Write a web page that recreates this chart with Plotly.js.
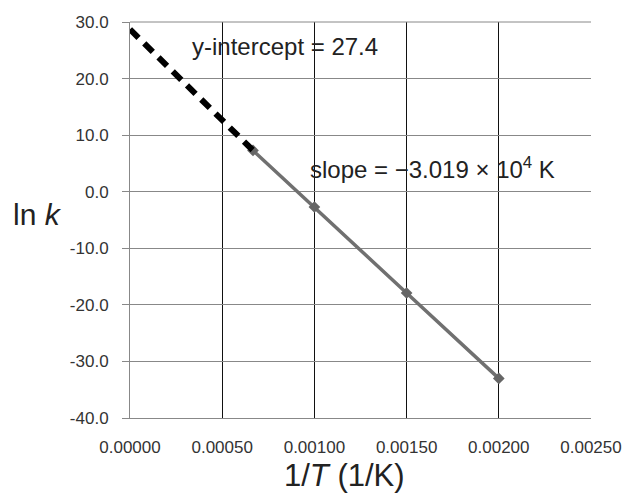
<!DOCTYPE html>
<html><head><meta charset="utf-8">
<script src="https://cdn.plot.ly/plotly-3.0.1.min.js"></script>
<style>html,body{margin:0;padding:0;background:#fff}#c{width:631px;height:495px}</style>
</head><body><div id="c"></div>
<script>
var invT = [0.000667, 0.00100, 0.00150, 0.00200];
var lnk = [7.3, -2.7, -17.9, -33.0];
var extX = [0.0, 0.000667];
var extY = [28.7, 7.3];
var xTicks = [0, 0.0005, 0.001, 0.0015, 0.002, 0.0025];
var xTickText = ["0.00000","0.00050","0.00100","0.00150","0.00200","0.00250"];
var yTicks = [-40,-30,-20,-10,0,10,20,30];
var yTickText = ["-40.0","-30.0","-20.0","-10.0","0.0","10.0","20.0","30.0"];

var traces = [
  {x: invT, y: lnk, mode: 'lines+markers', type: 'scatter',
   line: {color: '#707070', width: 3.5},
   marker: {symbol: 'diamond', size: 9, color: '#666666'}},
  {x: extX, y: extY, mode: 'lines', type: 'scatter',
   line: {color: '#000000', width: 6, dash: '12px,8px'}}
];
var layout = {
  width: 631, height: 495,
  margin: {l: 130, r: 40, t: 22, b: 77},
  showlegend: false,
  paper_bgcolor: '#fff', plot_bgcolor: '#fff',
  font: {family: 'Liberation Sans, Arial, sans-serif', color: '#222'},
  xaxis: {range: [0, 0.0025], tickvals: xTicks, ticktext: xTickText,
    showgrid: true, gridcolor: '#111', gridwidth: 1,
    zeroline: false, showline: true, linecolor: '#888', linewidth: 1,
    ticks: '', ticklabelstandoff: 14,
    tickfont: {size: 17, family: 'Liberation Sans, Arial, sans-serif', color: '#333'}},
  yaxis: {range: [-40, 30], tickvals: yTicks, ticktext: yTickText,
    showgrid: true, gridcolor: '#888', gridwidth: 1,
    zeroline: false, showline: true, linecolor: '#888', linewidth: 1,
    ticks: 'outside', ticklen: 7, tickcolor: '#888', ticklabelstandoff: 10,
    tickfont: {size: 17, family: 'Liberation Sans, Arial, sans-serif', color: '#333'}},
  shapes: [{type: 'line', xref: 'paper', yref: 'paper', x0: 0, x1: 1, y0: 1, y1: 1,
    line: {color: '#888', width: 1}}],
  annotations: [
    {xref: 'paper', yref: 'paper', x: -0.2, y: 0.513, xanchor: 'center', yanchor: 'middle',
     text: 'ln <i>k</i>', showarrow: false, font: {size: 30, color: '#222'}},
    {xref: 'paper', yref: 'paper', x: 0.465, y: -0.144, xanchor: 'center', yanchor: 'middle',
     text: '1/<i>T</i> (1/K)', showarrow: false, font: {size: 31, color: '#222'}},
    {xref: 'x', yref: 'y', x: 0.000325, y: 25.6, xanchor: 'left', yanchor: 'middle',
     text: 'y-intercept = 27.4', showarrow: false, font: {size: 24, color: '#222'}},
    {xref: 'x', yref: 'y', x: 0.000965, y: 4.2, xanchor: 'left', yanchor: 'middle',
     text: 'slope = \u22123.019 \u00d7 10<sup>4</sup> K', showarrow: false, font: {size: 24, color: '#222'}}
  ]
};
Plotly.newPlot('c', traces, layout, {displayModeBar: false, staticPlot: true});
</script></body></html>
